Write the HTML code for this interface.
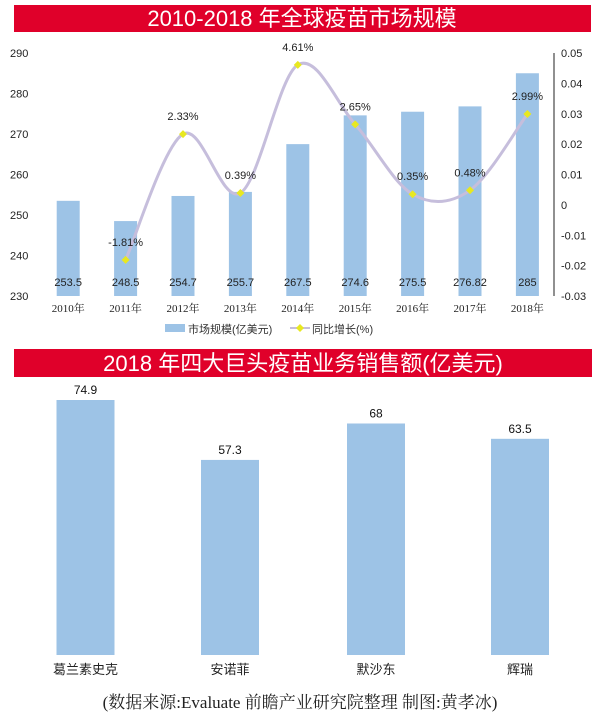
<!DOCTYPE html>
<html><head><meta charset="utf-8">
<style>
html,body{margin:0;padding:0;background:#fff;}
body{width:600px;height:719px;overflow:hidden;position:relative;font-family:"Liberation Sans","Noto Sans CJK SC",sans-serif;}
svg{position:absolute;left:0;top:0;}
</style></head>
<body>
<svg width="600" height="719" viewBox="0 0 600 719">
  <rect x="14" y="5" width="577" height="27" fill="#e0002a"/>
  <text x="302" y="26" fill="#fff" font-size="22" text-anchor="middle" font-family="Liberation Sans, Noto Sans CJK SC, sans-serif">2010-2018 年全球疫苗市场规模</text>
  <g id="topchart"></g>
  <rect x="14" y="349" width="578" height="28" fill="#e0002a"/>
  <text x="303" y="371" fill="#fff" font-size="22" text-anchor="middle" font-family="Liberation Sans, Noto Sans CJK SC, sans-serif">2018 年四大巨头疫苗业务销售额(亿美元)</text>
  <g id="bottomchart"></g>
  <text x="300" y="708" font-size="17" text-anchor="middle" fill="#222" font-family="Liberation Serif, Noto Serif CJK SC, serif">(数据来源:Evaluate 前瞻产业研究院整理 制图:黄孝冰)</text>
</svg>
<script>
const years = ["2010年","2011年","2012年","2013年","2014年","2015年","2016年","2017年","2018年"];
const marketSize = [253.5,248.5,254.7,255.7,267.5,274.6,275.5,276.82,285];
const marketLabels = ["253.5","248.5","254.7","255.7","267.5","274.6","275.5","276.82","285"];
const growth = [null,-0.0181,0.0233,0.0039,0.0461,0.0265,0.0035,0.0048,0.0299];
const growthLabels = [null,"-1.81%","2.33%","0.39%","4.61%","2.65%","0.35%","0.48%","2.99%"];
const leftTicks = [230,240,250,260,270,280,290];
const rightTicks = [-0.03,-0.02,-0.01,0,0.01,0.02,0.03,0.04,0.05];
const rightTickLabels = ["-0.03","-0.02","-0.01","0","0.01","0.02","0.03","0.04","0.05"];
const companies = ["葛兰素史克","安诺菲","默沙东","辉瑞"];
const sales = [74.9,57.3,68,63.5];
const salesLabels = ["74.9","57.3","68","63.5"];

const NS="http://www.w3.org/2000/svg";
function mk(tag,attrs,parent,txt){const e=document.createElementNS(NS,tag);for(const k in attrs)e.setAttribute(k,attrs[k]);if(txt!==undefined)e.textContent=txt;parent.appendChild(e);return e;}

const topG=document.getElementById('topchart');
const x0=39.5, step=57.4;
const xC=i=>x0+step*(i+0.5);
const yL=v=>296-(v-230)*(296-53)/60;
const yR=v=>296-(v+0.03)*(296-53)/0.08;
leftTicks.forEach(t=>{
  const e=mk('text',{x:10,y:yL(t)+4,'font-size':11,fill:'#222'},topG,String(t));
  
  
});
const ax=mk('line',{x1:554,y1:53,x2:554,y2:296,stroke:'#222','stroke-width':1},topG);


rightTicks.forEach((t,i)=>{
  const e=mk('text',{x:561,y:yR(t)+4,'font-size':11,fill:'#222'},topG,rightTickLabels[i]);
  
  
});
marketSize.forEach((v,i)=>{
  const b=mk('rect',{x:xC(i)-11.5,y:yL(v),width:23,height:296-yL(v),fill:'#9dc3e6'},topG);
  
  
  const l=mk('text',{x:xC(i),y:286,'font-size':11,'text-anchor':'middle',fill:'#222'},topG,marketLabels[i]);
  
  
  const yl=mk('text',{x:xC(i),y:312,'font-size':11,'text-anchor':'middle',fill:'#222','font-family':'Liberation Serif, Noto Serif CJK SC, serif'},topG,years[i]);
  
  
});
const pts=[];growth.forEach((g,i)=>{if(g!==null)pts.push([xC(i),yR(g)]);});
let d=`M${pts[0][0]},${pts[0][1]}`;
for(let i=0;i<pts.length-1;i++){
  const p0=pts[Math.max(0,i-1)],p1=pts[i],p2=pts[i+1],p3=pts[Math.min(pts.length-1,i+2)];
  const c1=[p1[0]+(p2[0]-p0[0])/6,p1[1]+(p2[1]-p0[1])/6];
  const c2=[p2[0]-(p3[0]-p1[0])/6,p2[1]-(p3[1]-p1[1])/6];
  d+=` C${c1[0]},${c1[1]} ${c2[0]},${c2[1]} ${p2[0]},${p2[1]}`;
}
const ln=mk('path',{d:d,fill:'none',stroke:'#c6bedc','stroke-width':3},topG);


growth.forEach((g,i)=>{
  if(g===null)return;
  const x=xC(i),y=yR(g);
  const p=mk('path',{d:`M${x},${y-4}L${x+4},${y}L${x},${y+4}L${x-4},${y}Z`,fill:'#e8e820'},topG);
  
  
  const t=mk('text',{x:x,y:y-14,'font-size':11,'text-anchor':'middle',fill:'#222'},topG,growthLabels[i]);
  
  
});
const lg=mk('g',{},topG);


mk('rect',{x:165,y:324,width:20,height:8,fill:'#9dc3e6'},lg);
mk('text',{x:188,y:333,'font-size':11,fill:'#333'},lg,'市场规模(亿美元)');
mk('line',{x1:290,y1:328,x2:310,y2:328,stroke:'#c6bedc','stroke-width':2},lg);
mk('path',{d:'M300,324L304,328L300,332L296,328Z',fill:'#e8e820'},lg);
mk('text',{x:312,y:333,'font-size':11,fill:'#333'},lg,'同比增长(%)');

const botG=document.getElementById('bottomchart');
const bx=[85.5,230,376,520];
const yB=v=>655-v*255/74.9;
sales.forEach((v,i)=>{
  const b=mk('rect',{x:bx[i]-29,y:yB(v),width:58,height:655-yB(v),fill:'#9dc3e6'},botG);
  
  
  const l=mk('text',{x:bx[i],y:yB(v)-6,'font-size':12,'text-anchor':'middle',fill:'#111'},botG,salesLabels[i]);
  
  
  const c=mk('text',{x:bx[i],y:674,'font-size':13,'text-anchor':'middle',fill:'#222'},botG,companies[i]);
  
  
});
</script>
</body></html>
